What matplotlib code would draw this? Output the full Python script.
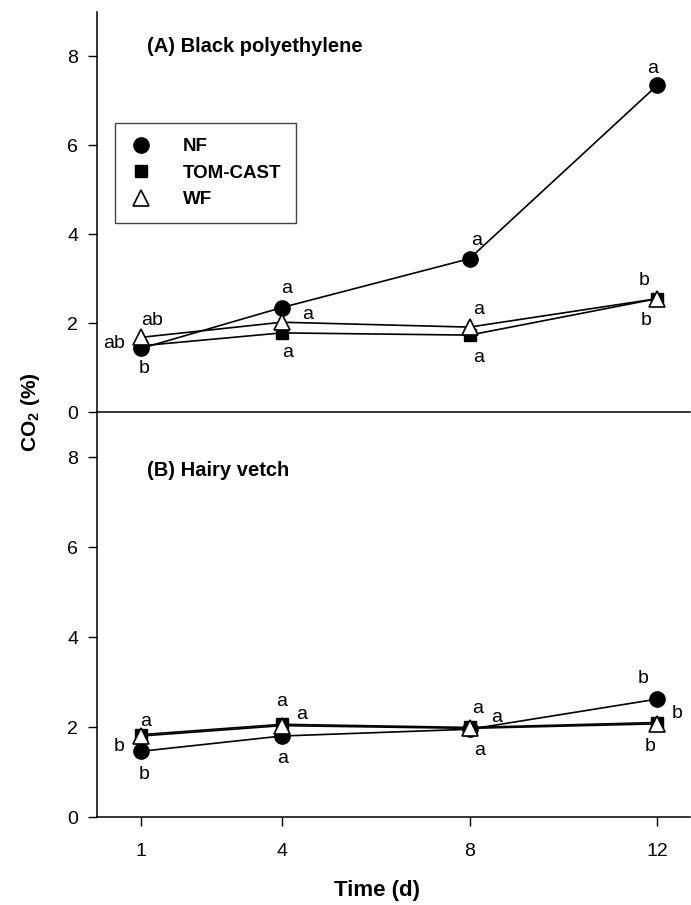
import matplotlib
matplotlib.use("Agg")
import matplotlib.pyplot as plt

plt.rcParams['font.family'] = ['Liberation Sans', 'DejaVu Sans']
plt.rcParams['mathtext.fontset'] = 'custom'
plt.rcParams['mathtext.rm'] = 'Liberation Sans'
plt.rcParams['mathtext.bf'] = 'Liberation Sans:bold'

days = [1, 4, 8, 12]
series = ["NF", "TOM-CAST", "WF"]

# Panel A: Black polyethylene
a_nf = [1.43, 2.35, 3.45, 7.35]
a_tc = [1.49, 1.78, 1.73, 2.55]
a_wf = [1.68, 2.02, 1.91, 2.55]
# Panel B: Hairy vetch
b_nf = [1.46, 1.80, 1.95, 2.62]
b_tc = [1.83, 2.06, 1.99, 2.10]
b_wf = [1.80, 2.03, 1.97, 2.07]

# letters: (series index, day index, text, dx px, dy px)
a_letters = [
    (1, 0, "ab", -27, 2), (0, 0, "b", 3, -20), (2, 0, "ab", 11, 17),
    (0, 1, "a", 5, 19), (2, 1, "a", 26, 8), (1, 1, "a", 6, -20),
    (0, 2, "a", 7, 18), (2, 2, "a", 9, 18), (1, 2, "a", 9, -22),
    (0, 3, "a", -5, 17), (2, 3, "b", -13, 18), (1, 3, "b", -11, -22),
]
b_letters = [
    (2, 0, "a", 5, 15), (0, 0, "b", -22, 5), (0, 0, "b", 3, -23),
    (2, 1, "a", 0, 24), (2, 1, "a", 20, 11), (0, 1, "a", 1, -22),
    (2, 2, "a", 8, 20), (2, 2, "a", 27, 11), (0, 2, "a", 10, -21),
    (0, 3, "b", -14, 21), (2, 3, "b", 20, 10), (2, 3, "b", -7, -23),
]

yticks = [0, 2, 4, 6, 8]
xticks = [1, 4, 8, 12]

fig = plt.figure(figsize=(6.91, 9.05), dpi=100)
axB = fig.add_axes([97/691, (905-817)/905, 593/691, 405/905])
axA = fig.add_axes([97/691, (905-412)/905, 593/691, 400/905])
axA.patch.set_visible(False)
axB.patch.set_visible(False)

styles = [
    dict(marker='o', markersize=11, markerfacecolor='black', markeredgecolor='black'),
    dict(marker='s', markersize=8.5, markerfacecolor='black', markeredgecolor='black'),
    dict(marker='^', markersize=11, markerfacecolor='white', markeredgecolor='black', markeredgewidth=1.2),
]

px2pt = 0.72

def draw(ax, data, letters, title, title_y):
    for name, vals, st in zip(series, data, styles):
        ax.plot(days, vals, color='black', linewidth=1.2, label=name, **st)
    for si, di, txt, dx, dy in letters:
        ax.annotate(txt, (days[di], data[si][di]), xytext=(dx*px2pt, dy*px2pt),
                    textcoords='offset points', ha='center', va='center', fontsize=14)
    ax.set_xlim(0.06, 12.7)
    ax.set_ylim(0, 9)
    ax.set_yticks(yticks)
    ax.set_xticks(xticks)
    ax.spines['top'].set_visible(False)
    ax.spines['right'].set_visible(False)
    for s in ('left', 'bottom'):
        ax.spines[s].set_linewidth(1.1)
    ax.tick_params(direction='out', length=6.5, width=1, labelsize=14, pad=7)
    ax.text((147-97)/593, title_y, title, transform=ax.transAxes, fontsize=14.5,
            fontweight='bold', ha='left', va='center')

draw(axA, [a_nf, a_tc, a_wf], a_letters, "(A) Black polyethylene", (412-46)/400)
draw(axB, [b_nf, b_tc, b_wf], b_letters, "(B) Hairy vetch", (817-470)/405)

axA.tick_params(axis='x', bottom=False, labelbottom=False)
axB.tick_params(axis='x', pad=12)

leg = axA.legend(loc='upper left', bbox_to_anchor=((115-97)/593, (412-123)/400),
                 frameon=True, fancybox=False, edgecolor='#444444',
                 prop={'weight': 'bold', 'size': 13.5}, handlelength=1.2,
                 handletextpad=1.6, borderpad=0.8, labelspacing=0.5,
                 borderaxespad=0, framealpha=1)
leg.get_frame().set_linewidth(1.0)
for h in leg.legend_handles:
    h.set_linestyle('none')

fig.text(30/691, 1-412/905, r"CO$_\mathbf{2}$ (%)", rotation=90, ha='center', va='center',
         fontsize=15, fontweight='bold')
fig.text(377/691, 1-890/905, "Time (d)", ha='center', va='center',
         fontsize=16, fontweight='bold')

fig.savefig("out.png", dpi=100)
